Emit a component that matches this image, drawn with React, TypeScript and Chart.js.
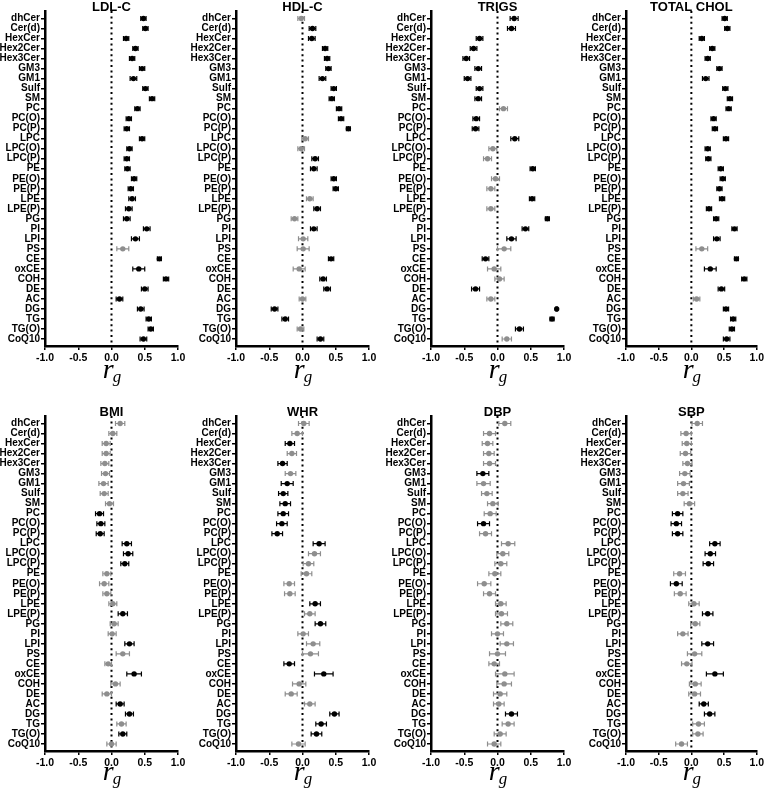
import React, { useEffect, useRef } from 'react';
import { Chart, registerables } from 'chart.js';
Chart.register(...registerables);

const CATEGORIES = ['dhCer','Cer(d)','HexCer','Hex2Cer','Hex3Cer','GM3','GM1','Sulf','SM','PC','PC(O)','PC(P)','LPC','LPC(O)','LPC(P)','PE','PE(O)','PE(P)','LPE','LPE(P)','PG','PI','LPI','PS','CE','oxCE','COH','DE','AC','DG','TG','TG(O)','CoQ10'];
const X_TICKS = [-1, -0.5, 0, 0.5, 1];

const LDL_R = [0.48,0.51,0.22,0.36,0.31,0.46,0.33,0.51,0.61,0.39,0.26,0.23,0.46,0.27,0.23,0.24,0.34,0.29,0.31,0.26,0.23,0.53,0.36,0.17,0.72,0.41,0.82,0.50,0.12,0.44,0.56,0.59,0.48];
const LDL_E = [.04,.04,.04,.04,.04,.04,.05,.04,.04,.04,.04,.04,.04,.04,.04,.04,.04,.04,.05,.05,.05,.05,.06,.09,.03,.09,.04,.05,.05,.05,.04,.04,.05];
const LDL_S = [1,1,1,1,1,1,1,1,1,1,1,1,1,1,1,1,1,1,1,1,1,1,1,0,1,1,1,1,1,1,1,1,1];

const HDL_R = [-0.02,0.15,0.14,0.34,0.37,0.39,0.30,0.47,0.44,0.55,0.58,0.69,0.04,-0.02,0.19,0.17,0.47,0.50,0.11,0.22,-0.12,0.17,0.01,0.01,0.43,-0.05,0.31,0.37,0.00,-0.42,-0.26,-0.03,0.27];
const HDL_E = [.05,.05,.05,.04,.04,.04,.05,.04,.04,.04,.04,.03,.05,.05,.05,.05,.04,.04,.05,.05,.05,.05,.07,.09,.04,.09,.05,.05,.05,.05,.05,.05,.05];
const HDL_S = [0,1,1,1,1,1,1,1,1,1,1,1,0,0,1,1,1,1,0,1,0,1,0,0,1,0,1,1,0,1,1,0,1];

const TRIGS_R = [0.25,0.21,-0.27,-0.36,-0.47,-0.29,-0.45,-0.27,-0.29,0.09,-0.32,-0.33,0.26,-0.07,-0.15,0.53,-0.03,-0.10,0.52,-0.10,0.75,0.42,0.21,0.10,-0.18,-0.05,0.03,-0.33,-0.10,0.89,0.82,0.33,0.14];
const TRIGS_E = [.06,.06,.05,.05,.05,.05,.05,.05,.05,.06,.05,.05,.06,.06,.06,.04,.06,.06,.04,.06,.03,.05,.07,.10,.05,.10,.07,.06,.06,.01,.03,.06,.07];
const TRIGS_S = [1,1,1,1,1,1,1,1,1,0,1,1,1,0,0,1,0,0,1,0,1,1,1,0,1,0,0,1,0,1,1,1,0];

const TC_R = [0.51,0.55,0.16,0.32,0.25,0.43,0.22,0.52,0.59,0.57,0.34,0.36,0.53,0.25,0.26,0.45,0.48,0.43,0.47,0.27,0.38,0.66,0.39,0.16,0.69,0.29,0.81,0.46,0.08,0.53,0.64,0.62,0.54];
const TC_E = [.04,.04,.04,.04,.04,.04,.05,.04,.04,.04,.04,.04,.04,.04,.04,.04,.04,.04,.04,.04,.04,.04,.05,.09,.03,.09,.04,.05,.05,.04,.04,.04,.05];
const TC_S = [1,1,1,1,1,1,1,1,1,1,1,1,1,1,1,1,1,1,1,1,1,1,1,0,1,1,1,1,0,1,1,1,1];

const BMI_R = [0.13,0.02,-0.08,-0.08,-0.10,-0.09,-0.12,-0.11,-0.03,-0.18,-0.16,-0.17,0.23,0.25,0.20,-0.07,-0.11,-0.07,0.02,0.17,0.04,0.01,0.27,0.17,-0.05,0.34,0.06,-0.07,0.13,0.27,0.15,0.17,0.00];
const BMI_E = [.07,.06,.06,.06,.06,.06,.07,.06,.06,.06,.06,.06,.07,.07,.06,.06,.07,.06,.06,.07,.06,.06,.07,.10,.05,.11,.07,.07,.06,.06,.07,.06,.07];
const BMI_S = [0,0,0,0,0,0,0,0,0,1,1,1,1,1,1,0,0,0,0,1,0,0,1,0,0,1,0,0,1,1,0,1,0];

const WHR_R = [0.02,-0.08,-0.19,-0.16,-0.30,-0.18,-0.23,-0.29,-0.26,-0.29,-0.31,-0.38,0.25,0.18,0.09,0.06,-0.20,-0.19,0.19,0.11,0.27,0.01,0.16,0.12,-0.20,0.32,-0.05,-0.17,0.11,0.48,0.28,0.21,-0.06];
const WHR_E = [.08,.08,.07,.07,.07,.08,.09,.07,.08,.08,.08,.08,.09,.09,.08,.08,.08,.08,.08,.08,.08,.08,.10,.12,.08,.14,.10,.09,.08,.07,.08,.08,.10];
const WHR_S = [0,0,1,0,1,0,1,1,1,1,1,1,1,0,0,0,0,0,1,0,1,0,0,0,1,1,0,0,0,1,1,1,0];

const DBP_R = [0.11,-0.12,-0.15,-0.13,-0.12,-0.22,-0.21,-0.16,-0.07,-0.11,-0.21,-0.18,0.16,0.08,0.05,-0.04,-0.20,-0.12,0.05,0.06,0.14,0.00,0.14,0.00,-0.05,0.11,0.10,0.04,0.02,0.21,0.16,0.04,-0.05];
const DBP_E = [.09,.09,.08,.08,.09,.09,.10,.08,.08,.09,.09,.09,.10,.09,.09,.09,.10,.09,.08,.09,.09,.09,.10,.12,.08,.14,.11,.10,.08,.09,.09,.09,.10];
const DBP_S = [0,0,0,0,0,1,0,0,0,0,1,0,0,0,0,0,0,0,0,0,0,0,0,0,0,0,0,0,0,1,0,0,0];

const SBP_R = [0.09,-0.08,-0.07,-0.09,-0.06,-0.10,-0.12,-0.13,-0.03,-0.21,-0.23,-0.21,0.36,0.29,0.26,-0.18,-0.23,-0.17,0.04,0.25,0.06,-0.13,0.25,0.05,-0.07,0.36,0.06,0.05,0.19,0.28,0.11,0.10,-0.15];
const SBP_E = [.08,.08,.07,.08,.07,.08,.09,.08,.08,.08,.08,.08,.08,.08,.08,.09,.09,.09,.08,.08,.07,.08,.09,.11,.08,.13,.09,.09,.07,.08,.09,.08,.09];
const SBP_S = [0,0,0,0,0,0,0,0,0,1,1,1,1,1,1,0,1,0,0,1,0,0,1,0,0,1,0,0,1,1,0,0,0];

const PANELS = [
  { title: 'LDL-C', r: LDL_R, e: LDL_E, s: LDL_S },
  { title: 'HDL-C', r: HDL_R, e: HDL_E, s: HDL_S },
  { title: 'TRIGS', r: TRIGS_R, e: TRIGS_E, s: TRIGS_S },
  { title: 'TOTAL CHOL', r: TC_R, e: TC_E, s: TC_S },
  { title: 'BMI', r: BMI_R, e: BMI_E, s: BMI_S },
  { title: 'WHR', r: WHR_R, e: WHR_E, s: WHR_S },
  { title: 'DBP', r: DBP_R, e: DBP_E, s: DBP_S },
  { title: 'SBP', r: SBP_R, e: SBP_E, s: SBP_S },
];

// layout
const COL_LEFT = [0, 190, 382, 574];
const AXIS_W = [45, 46, 49, 52];
const PLOT_W = 133;
const CANVAS_W = 192;
const ROWS = [
  { top: 0, h: 392, padTop: 11, xAxisH: 46, titleY: 7, rgY: 378 },
  { top: 392, h: 400, padTop: 24, xAxisH: 41, titleY: 20, rgY: 388 },
];
const GREY = '#8e8e8e';
const FONT = '"Liberation Sans", Arial, sans-serif';

function Panel({ idx }: { idx: number }) {
  const ref = useRef<HTMLCanvasElement>(null);
  const col = idx % 4;
  const row = ROWS[Math.floor(idx / 4)];
  useEffect(() => {
    const p = PANELS[idx];
    const axisW = AXIS_W[col];
    const padRight = CANVAS_W - axisW - PLOT_W;
    const colors = p.s.map((v) => (v ? '#000' : GREY));
    const overlay = {
      id: 'overlay',
      beforeDatasetsDraw(chart: any) {
        const { ctx, chartArea, scales } = chart;
        const xs = scales.x, ys = scales.y;
        const x0 = xs.getPixelForValue(0);
        ctx.save();
        ctx.strokeStyle = '#000';
        ctx.lineWidth = 2;
        ctx.setLineDash([2, 3.4]);
        ctx.beginPath();
        ctx.moveTo(x0, chartArea.top);
        ctx.lineTo(x0, chartArea.bottom);
        ctx.stroke();
        ctx.setLineDash([]);
        ctx.lineWidth = 1.2;
        p.r.forEach((v, i) => {
          const yp = ys.getPixelForValue(i);
          const xl = xs.getPixelForValue(v - p.e[i]);
          const xr = xs.getPixelForValue(v + p.e[i]);
          ctx.strokeStyle = colors[i];
          ctx.beginPath();
          ctx.moveTo(xl, yp); ctx.lineTo(xr, yp);
          ctx.moveTo(xl, yp - 2.5); ctx.lineTo(xl, yp + 2.5);
          ctx.moveTo(xr, yp - 2.5); ctx.lineTo(xr, yp + 2.5);
          ctx.stroke();
        });
        ctx.restore();
      },
      afterDraw(chart: any) {
        const { ctx, chartArea, scales } = chart;
        const cx = (chartArea.left + chartArea.right) / 2;
        ctx.save();
        ctx.fillStyle = '#000';
        ctx.font = 'bold 13px ' + FONT;
        ctx.textAlign = 'center';
        ctx.textBaseline = 'middle';
        ctx.fillText(p.title, cx, row.titleY);
        const x0 = scales.x.getPixelForValue(0);
        ctx.textAlign = 'left';
        ctx.textBaseline = 'alphabetic';
        ctx.font = 'italic 28px "Liberation Serif", "Times New Roman", serif';
        const rw = ctx.measureText('r').width;
        ctx.font = 'italic 17px "Liberation Serif", "Times New Roman", serif';
        const gw = ctx.measureText('g').width;
        const start = x0 + 1 - (rw + gw) / 2;
        ctx.font = 'italic 28px "Liberation Serif", "Times New Roman", serif';
        ctx.fillText('r', start, row.rgY);
        ctx.font = 'italic 17px "Liberation Serif", "Times New Roman", serif';
        ctx.fillText('g', start + rw - 1, row.rgY + 4);
        ctx.restore();
      },
    };
    const chart = new Chart(ref.current as HTMLCanvasElement, {
      type: 'scatter',
      data: {
        datasets: [{
          data: p.r.map((v, i) => ({ x: v, y: i })),
          pointBackgroundColor: colors,
          pointBorderWidth: 0,
          pointRadius: 2.7,
          pointHoverRadius: 2.7,
        }],
      },
      options: {
        animation: false,
        responsive: false,
        events: [],
        layout: { autoPadding: false, padding: { top: row.padTop, right: padRight, left: 0, bottom: 0 } },
        plugins: { legend: { display: false }, tooltip: { enabled: false }, title: { display: false } },
        scales: {
          x: {
            type: 'linear', min: -1, max: 1,
            afterFit: (s: any) => { s.height = row.xAxisH; },
            afterBuildTicks: (s: any) => { s.ticks = X_TICKS.map((v) => ({ value: v })); },
            border: { display: true, color: '#000', width: 2.5 },
            grid: { drawOnChartArea: false, drawTicks: true, tickLength: 4, color: '#000', lineWidth: 1.5 },
            ticks: { color: '#000', padding: 2, font: { family: FONT, weight: 'bold', size: 10.5 }, callback: (v: any) => Number(v).toFixed(1), maxRotation: 0 },
          },
          y: {
            type: 'linear', min: -0.75, max: 32.7, reverse: true,
            afterFit: (s: any) => { s.width = axisW; },
            afterBuildTicks: (s: any) => { s.ticks = CATEGORIES.map((_, i) => ({ value: i })); },
            border: { display: true, color: '#000', width: 2.5 },
            grid: { drawOnChartArea: false, drawTicks: true, tickLength: 4, color: '#000', lineWidth: 1.5 },
            ticks: { color: '#000', padding: 1, autoSkip: false, font: { family: FONT, weight: 'bold', size: 10 }, callback: (v: any) => CATEGORIES[v] ?? '' },
          },
        },
      } as any,
      plugins: [overlay],
    });
    return () => chart.destroy();
  }, []);
  return (
    <canvas
      ref={ref}
      width={CANVAS_W}
      height={row.h}
      style={{ position: 'absolute', left: COL_LEFT[col], top: row.top, width: CANVAS_W, height: row.h }}
    />
  );
}

export default function App() {
  return (
    <div style={{ position: 'absolute', left: 0, top: 0, width: 766, height: 792, background: '#fff', overflow: 'hidden' }}>
      {PANELS.map((_, i) => <Panel key={i} idx={i} />)}
    </div>
  );
}
